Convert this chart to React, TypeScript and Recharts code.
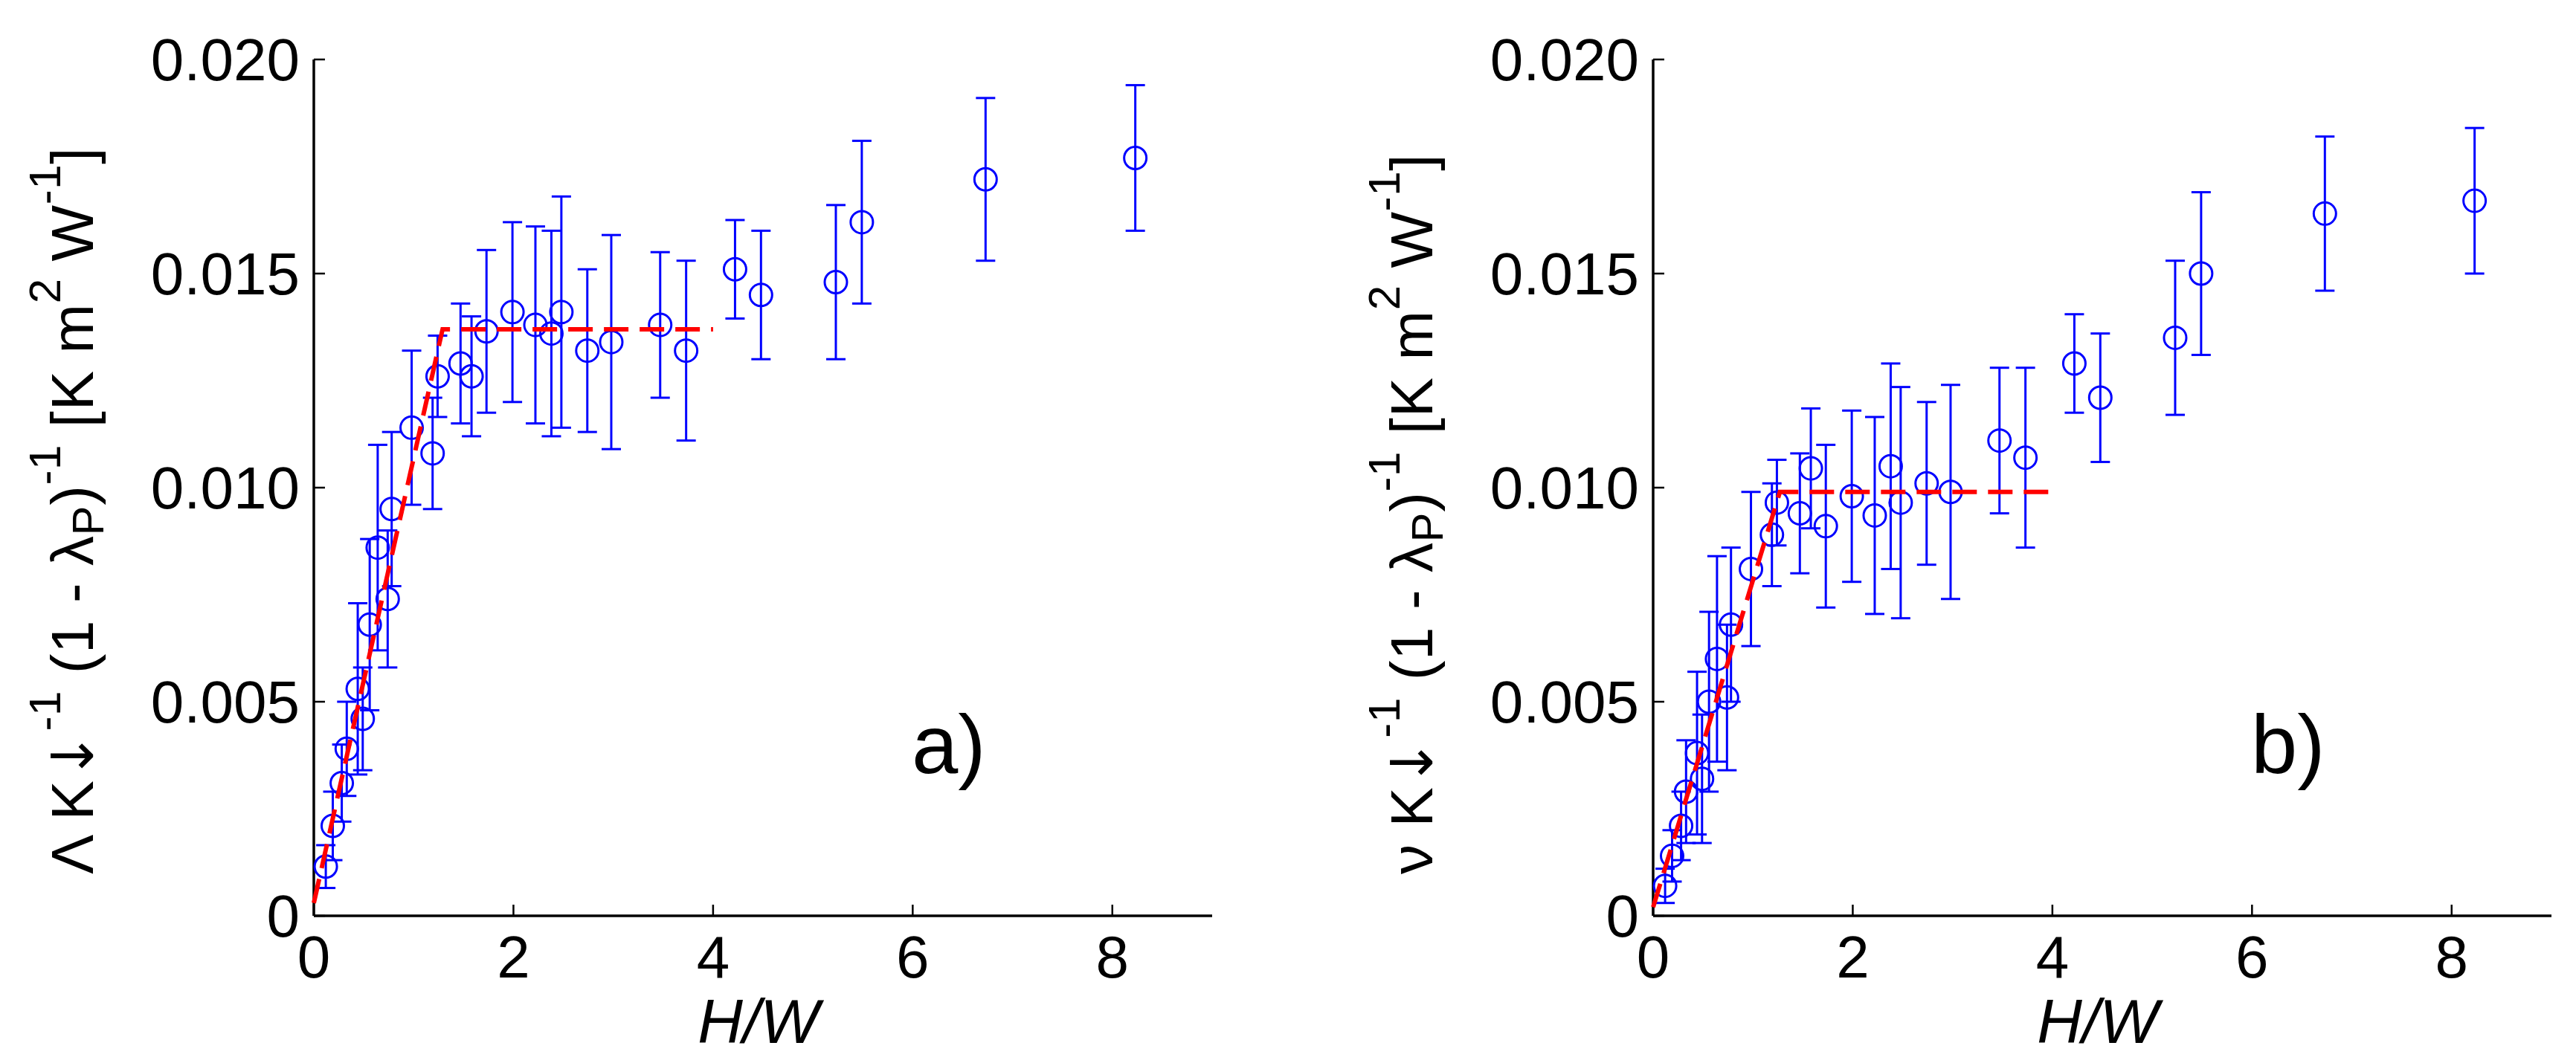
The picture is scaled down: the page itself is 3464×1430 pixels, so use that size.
import React from 'react';
import { ScatterChart, Scatter, XAxis, YAxis, ErrorBar } from 'recharts';

// ---- data ----
const hwRatio = [0.12, 0.19, 0.28, 0.33, 0.44, 0.49, 0.56, 0.64, 0.74, 0.78, 0.98, 1.19, 1.24, 1.47, 1.58, 1.73, 1.99, 2.22, 2.38, 2.48, 2.74, 2.98, 3.47, 3.73, 4.22, 4.48, 5.23, 5.49, 6.73, 8.23];

const lambdaValues = [0.00115, 0.0021, 0.0031, 0.0039, 0.0053, 0.0046, 0.0068, 0.0086, 0.0074, 0.0095, 0.0114, 0.0108, 0.0126, 0.0129, 0.0126, 0.01365, 0.0141, 0.0138, 0.0136, 0.0141, 0.0132, 0.0134, 0.0138, 0.0132, 0.0151, 0.0145, 0.0148, 0.0162, 0.0172, 0.0177];
const lambdaErrors = [0.0005, 0.0008, 0.0009, 0.0011, 0.002, 0.0012, 0.002, 0.0024, 0.0016, 0.0018, 0.0018, 0.0013, 0.00095, 0.0014, 0.0014, 0.0019, 0.0021, 0.0023, 0.0024, 0.0027, 0.0019, 0.0025, 0.0017, 0.0021, 0.00115, 0.0015, 0.0018, 0.0019, 0.0019, 0.0017];

const nuValues = [0.0007, 0.0014, 0.0021, 0.0029, 0.0038, 0.0032, 0.005, 0.006, 0.0051, 0.0068, 0.0081, 0.0089, 0.00965, 0.0094, 0.01045, 0.0091, 0.0098, 0.00935, 0.0105, 0.00965, 0.0101, 0.0099, 0.0111, 0.0107, 0.0129, 0.0121, 0.0135, 0.015, 0.0164, 0.0167];
const nuErrors = [0.0004, 0.0006, 0.0008, 0.0012, 0.0019, 0.0015, 0.0021, 0.0024, 0.0017, 0.0018, 0.0018, 0.0012, 0.001, 0.0014, 0.0014, 0.0019, 0.002, 0.0023, 0.0024, 0.0027, 0.0019, 0.0025, 0.0017, 0.0021, 0.00115, 0.0015, 0.0018, 0.0019, 0.0018, 0.0017];

const fitLambdaX = [0, 1.29, 4.0];
const fitLambdaY = [0.0003, 0.0137, 0.0137];
const fitNuX = [0, 1.27, 4.0];
const fitNuY = [0.0002, 0.0099, 0.0099];

const xTicks = [0, 2, 4, 6, 8];
const yTicks = [0, 0.005, 0.01, 0.015, 0.02];

// ---- helpers ----
const FONT = '"Liberation Sans", Arial, Helvetica, sans-serif';
const ARROW_FONT = '"DejaVu Sans", sans-serif';
const BLUE = '#0000ff';
const RED = '#ff0000';

const buildPoints = (xs: number[], ys: number[], es: number[]) =>
  xs.map((x, i) => ({ x, y: ys[i], err: es[i] }));
const buildLine = (xs: number[], ys: number[]) => xs.map((x, i) => ({ x, y: ys[i] }));

const lambdaPoints = buildPoints(hwRatio, lambdaValues, lambdaErrors);
const nuPoints = buildPoints(hwRatio, nuValues, nuErrors);
const lambdaFit = buildLine(fitLambdaX, fitLambdaY);
const nuFit = buildLine(fitNuX, fitNuY);

const fmtY = (v: number) => (v === 0 ? '0' : v.toFixed(3));

const CHART_W = 1732;
const CHART_H = 1430;
const PLOT_TOP = 80;
const PLOT_BOTTOM = 1232;
const PLOT_W = 1208;
const Y_AXIS_W = 400;
const X_AXIS_H = 150;

const Circle = (props: any) => {
  const { cx, cy } = props;
  if (cx == null || cy == null) return <g />;
  return <circle cx={cx} cy={cy} r={15} fill="none" stroke={BLUE} strokeWidth={3} />;
};

const NoShape = () => <g />;

function YTitle({ bx, by, symbol }: { bx: number; by: number; symbol: string }) {
  const up = -44;
  return (
    <text
      x={bx}
      y={by}
      transform={`rotate(-90 ${bx} ${by})`}
      textAnchor="start"
      fontSize={80}
      fontFamily={FONT}
      fill="#000"
      letterSpacing={0.6}
      style={{ whiteSpace: 'pre' }}
    >
      <tspan>{symbol + ' K'}</tspan>
      <tspan fontFamily={ARROW_FONT} fontSize={78}>{'\u2193'}</tspan>
      <tspan dy={up} fontSize={60}>-1</tspan>
      <tspan dy={-up}>{' (1 - \u03bb'}</tspan>
      <tspan dy={14} fontSize={60}>P</tspan>
      <tspan dy={-14}>)</tspan>
      <tspan dy={up} fontSize={60}>-1</tspan>
      <tspan dy={-up}>{' [K m'}</tspan>
      <tspan dy={up} fontSize={60}>2</tspan>
      <tspan dy={-up}>{' W'}</tspan>
      <tspan dy={up} fontSize={60}>-1</tspan>
      <tspan dy={-up}>]</tspan>
    </text>
  );
}

function XTitle({ plotLeft, tag }: { plotLeft: number; tag: string }) {
  return (
    <g>
      <text
        x={plotLeft + PLOT_W / 2 - 6}
        y={1403}
        textAnchor="middle"
        fontSize={84}
        fontStyle="italic"
        fontFamily={FONT}
        fill="#000"
      >
        H/W
      </text>
      <text x={plotLeft + 804} y={1040} textAnchor="start" fontSize={112} fontFamily={FONT} fill="#000">
        {tag}
      </text>
    </g>
  );
}

function Panel({
  offset,
  plotLeft,
  points,
  fit,
  symbol,
  tag,
}: {
  offset: number;
  plotLeft: number;
  points: any[];
  fit: any[];
  symbol: string;
  tag: string;
}) {
  const marginLeft = plotLeft - Y_AXIS_W;
  const marginRight = CHART_W - plotLeft - PLOT_W;
  const marginBottom = CHART_H - PLOT_BOTTOM - X_AXIS_H;
  return (
    <div style={{ position: 'absolute', left: offset, top: 0, width: CHART_W, height: CHART_H }}>
      <ScatterChart
        width={CHART_W}
        height={CHART_H}
        margin={{ top: PLOT_TOP, right: marginRight, bottom: marginBottom, left: marginLeft }}
        style={{ fontFamily: FONT }}
      >
        <XAxis
          type="number"
          dataKey="x"
          domain={[0, 9]}
          ticks={xTicks}
          interval={0}
          height={X_AXIS_H}
          axisLine={{ stroke: '#000', strokeWidth: 3.5 }}
          tickLine={{ stroke: '#000', strokeWidth: 2.5 }}
          tickSize={-15}
          tickMargin={41}
          tick={{ fontSize: 80, fill: '#000', fontFamily: FONT }}
          label={() => <XTitle plotLeft={plotLeft} tag={tag} />}
        />
        <YAxis
          type="number"
          dataKey="y"
          domain={[0, 0.02]}
          ticks={yTicks}
          interval={0}
          width={Y_AXIS_W}
          tickFormatter={fmtY}
          axisLine={{ stroke: '#000', strokeWidth: 3.5 }}
          tickLine={{ stroke: '#000', strokeWidth: 2.5 }}
          tickSize={-15}
          tickMargin={34}
          tick={{ fontSize: 80, fill: '#000', fontFamily: FONT }}
          label={() => <YTitle bx={plotLeft - 297} by={1176} symbol={symbol} />}
        />
        <Scatter data={points} shape={Circle} isAnimationActive={false} legendType="none">
          <ErrorBar dataKey="err" direction="y" width={13} strokeWidth={3} stroke={BLUE} isAnimationActive={false} />
        </Scatter>
        <Scatter
          data={fit}
          shape={NoShape}
          line={{ stroke: RED, strokeWidth: 6, strokeDasharray: '33 15' }}
          lineType="joint"
          isAnimationActive={false}
          legendType="none"
        />
      </ScatterChart>
    </div>
  );
}

export default function App() {
  return (
    <div style={{ position: 'absolute', left: 0, top: 0, width: 3464, height: 1430, background: '#fff' }}>
      <Panel offset={0} plotLeft={422} points={lambdaPoints} fit={lambdaFit} symbol={'\u039b'} tag="a)" />
      <Panel offset={1732} plotLeft={491} points={nuPoints} fit={nuFit} symbol={'\u03bd'} tag="b)" />
    </div>
  );
}
